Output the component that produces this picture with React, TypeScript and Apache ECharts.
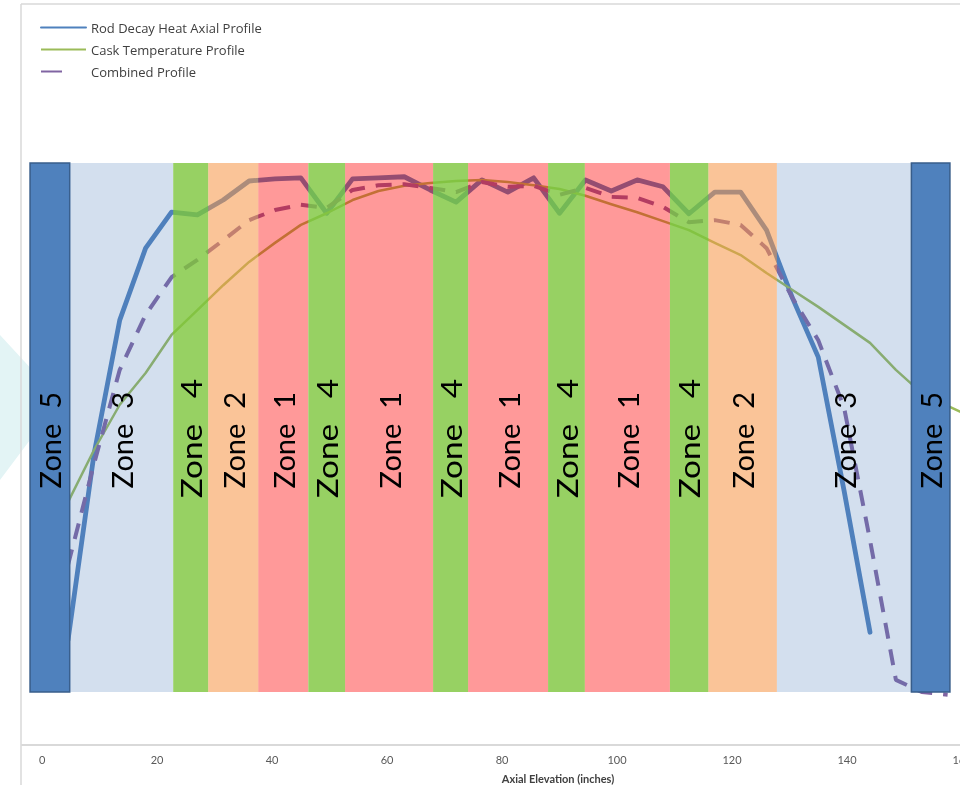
import React, { useEffect, useRef } from "react";
import * as echarts from "echarts";

// Axial elevation (inches) of each profile point
const elevations = [
  4.5, 9, 13.5, 18, 22.5, 27, 31.5, 36, 40.5, 45, 49.5, 54, 58.5, 63, 67.5, 72,
  76.5, 81, 85.5, 90, 94.5, 99, 103.5, 108, 112.5, 117, 121.5, 126, 130.5, 135,
  139.5, 144, 148.5, 153, 157.5, 162,
];

// Relative profiles
const rodDecayHeat = [
  0.098, 0.448, 0.703, 0.839, 0.907, 0.902, 0.93, 0.966, 0.97, 0.972, 0.905,
  0.97, 0.972, 0.974, 0.949, 0.926, 0.968, 0.945, 0.972, 0.905, 0.968, 0.947,
  0.968, 0.955, 0.904, 0.945, 0.945, 0.873, 0.745, 0.633, 0.38, 0.113,
];
const caskTemperature = [
  0.359, 0.457, 0.543, 0.603, 0.675, 0.722, 0.769, 0.813, 0.849, 0.883, 0.905,
  0.93, 0.947, 0.957, 0.962, 0.966, 0.968, 0.964, 0.958, 0.951, 0.938, 0.922,
  0.907, 0.89, 0.873, 0.849, 0.826, 0.792, 0.76, 0.728, 0.694, 0.66, 0.609,
  0.565, 0.541, 0.518,
];
const combinedProfile = [
  0.24, 0.43, 0.609, 0.713, 0.784, 0.817, 0.854, 0.892, 0.911, 0.921, 0.915,
  0.949, 0.958, 0.96, 0.953, 0.945, 0.964, 0.955, 0.957, 0.94, 0.953, 0.936,
  0.934, 0.917, 0.888, 0.892, 0.883, 0.839, 0.745, 0.665, 0.537, 0.287, 0.023,
  0.0, -0.005,
];

// Zones along the axial elevation
const zoneNumbers = [5, 3, 4, 2, 1, 4, 1, 4, 1, 4, 1, 4, 2, 3, 5];
const zoneStarts = [
  -2.1, 4.8, 22.8, 28.9, 37.6, 46.3, 52.7, 68.0, 74.1, 88.0, 94.4, 109.2, 115.9,
  127.8, 151.2,
];
const zoneEnds = [
  4.8, 22.8, 28.9, 37.6, 46.3, 52.7, 68.0, 74.1, 88.0, 94.4, 109.2, 115.9, 127.8,
  151.2, 157.9,
];

const xTickLabels = [0, 20, 40, 60, 80, 100, 120, 140, 160];

const seriesNames = [
  "Rod Decay Heat Axial Profile",
  "Cask Temperature Profile",
  "Combined Profile",
];

// Translucent zone overlays drawn in front of the profiles
const ZONE_COLORS: Record<number, string> = {
  1: "rgba(255,0,0,0.4)",
  2: "rgba(246,150,72,0.56)",
  3: "rgba(79,129,189,0.25)",
  4: "rgba(125,198,60,0.8)",
  5: "#4f81bd",
};

const BLUE = "#4f81bd";
const GREEN = "#9bbb59";
const PURPLE = "#8064a2";

function pairs(values: number[]) {
  return values.map((v, i) => [elevations[i], v]);
}

export default function App() {
  const ref = useRef<HTMLDivElement>(null);

  useEffect(() => {
    if (!ref.current) return;
    const chart = echarts.init(ref.current, null, { renderer: "svg" });
    const zoneData = zoneNumbers.map((z, i) => [zoneStarts[i], zoneEnds[i], z]);

    const rectItem = (_params: any, api: any) => {
      const z = api.value(2);
      const p0 = api.coord([api.value(0), 1]);
      const p1 = api.coord([api.value(1), 0]);
      return {
        type: "rect",
        shape: { x: p0[0], y: p0[1], width: p1[0] - p0[0], height: p1[1] - p0[1] },
        style: {
          fill: ZONE_COLORS[z],
          stroke: z === 5 ? "#385d8a" : null,
          lineWidth: z === 5 ? 1.5 : 0,
        },
      };
    };

    const labelItem = (_params: any, api: any) => {
      const z = api.value(2);
      const cx = (api.value(0) + api.value(1)) / 2;
      const c = api.coord([cx, z === 4 ? 0.479 : 0.476]);
      return {
        type: "text",
        x: c[0],
        y: c[1],
        rotation: Math.PI / 2,
        scaleX: z === 4 ? 1.15 : 1,
        style: {
          text: z === 4 ? "Zone   " + z : "Zone  " + z,
          fill: "#000000",
          fontSize: 29,
          fontFamily: "Lato",
          align: "center",
          verticalAlign: "middle",
        },
      };
    };

    chart.setOption({
      animation: false,
      backgroundColor: "transparent",
      grid: {
        left: 22,
        right: -2,
        top: 4.3,
        bottom: 40.1,
        containLabel: false,
        outerBoundsMode: "none",
      },
      legend: {
        orient: "vertical",
        left: 35,
        top: 16,
        itemWidth: 45,
        itemHeight: 14,
        itemGap: 9,
        selectedMode: false,
        itemStyle: { opacity: 0 },
        textStyle: { fontSize: 13, color: "#404040", fontFamily: "Open Sans" },
        data: [
          { name: seriesNames[0] },
          { name: seriesNames[1] },
          { name: seriesNames[2], lineStyle: { type: [21, 60] } },
        ],
      },
      xAxis: {
        type: "value",
        min: -3.5,
        max: 160,
        name: "Axial Elevation (inches)",
        nameLocation: "middle",
        nameGap: 28,
        nameTextStyle: {
          fontSize: 11,
          fontWeight: "bold",
          color: "#404040",
          fontFamily: "Lato",
          padding: [0, 0, 0, 132],
        },
        axisLine: { show: true, onZero: false, lineStyle: { color: "#d9d9d9", width: 2 } },
        axisTick: { show: false },
        splitLine: { show: false },
        axisLabel: {
          customValues: xTickLabels,
          margin: 9,
          fontSize: 11,
          color: "#595959",
          fontFamily: "Lato",
        },
      },
      yAxis: {
        type: "value",
        min: -0.1,
        max: 1.3,
        show: false,
        splitLine: { show: false },
      },
      graphic: [
        {
          type: "polygon",
          z: 0,
          shape: { points: [[0, 335], [60, 400], [0, 480]] },
          style: { fill: "#e3f4f5" },
          silent: true,
        },
        {
          type: "line",
          shape: { x1: 21, y1: 4, x2: 21, y2: 785 },
          style: { stroke: "#d9d9d9", lineWidth: 1.5 },
          silent: true,
        },
        {
          type: "line",
          shape: { x1: 21, y1: 4, x2: 960, y2: 4 },
          style: { stroke: "#d9d9d9", lineWidth: 1.5 },
          silent: true,
        },
      ],
      series: [
        {
          type: "line",
          name: seriesNames[0],
          z: 2,
          data: pairs(rodDecayHeat),
          symbol: "none",
          color: BLUE,
          lineStyle: { color: BLUE, width: 4.8, cap: "round", join: "round" },
          clip: false,
        },
        {
          type: "line",
          name: seriesNames[1],
          z: 2,
          data: pairs(caskTemperature),
          symbol: "none",
          color: GREEN,
          lineStyle: { color: GREEN, width: 2.5, join: "round" },
          clip: false,
        },
        {
          type: "line",
          name: seriesNames[2],
          z: 2,
          data: pairs(combinedProfile),
          symbol: "none",
          color: PURPLE,
          lineStyle: { color: PURPLE, width: 4, type: [16, 11] },
          clip: false,
        },
        {
          type: "custom",
          name: "zones",
          z: 3,
          renderItem: rectItem,
          encode: { x: [0, 1] },
          data: zoneData,
          silent: true,
        },
        {
          type: "custom",
          name: "zoneLabels",
          z: 4,
          renderItem: labelItem,
          encode: { x: [0, 1] },
          data: zoneData,
          silent: true,
        },
      ],
    });

    return () => chart.dispose();
  }, []);

  return (
    <div
      ref={ref}
      style={{ position: "fixed", left: 0, top: 0, width: 960, height: 785 }}
    />
  );
}
